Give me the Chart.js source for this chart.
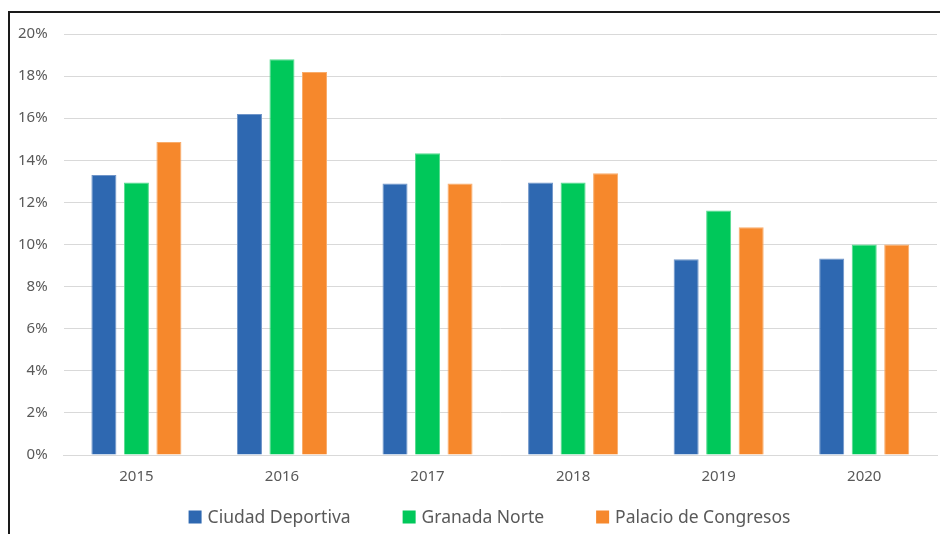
<!DOCTYPE html>
<html>
<head>
<meta charset="utf-8">
<script src="https://cdn.jsdelivr.net/npm/chart.js@4/dist/chart.umd.min.js"></script>
<style>
  html, body { margin: 0; padding: 0; background: #fff; }
  #wrap { width: 940px; height: 534px; position: relative; }
</style>
</head>
<body>
<div id="wrap"><canvas id="c" width="940" height="534"></canvas></div>
<script>
const categories = ['2015', '2016', '2017', '2018', '2019', '2020'];
const ciudadDeportiva = [13.3, 16.2, 12.9, 12.95, 9.3, 9.33];
const granadaNorte = [12.95, 18.8, 14.33, 12.95, 11.62, 10.0];
const palacioCongresos = [14.87, 18.2, 12.9, 13.38, 10.82, 10.0];
const seriesNames = ['Ciudad Deportiva', 'Granada Norte', 'Palacio de Congresos'];
const yTicks = [0, 2, 4, 6, 8, 10, 12, 14, 16, 18, 20];

const colors = ['#2E68B1', '#00C85A', '#F6882C'];
const borders = ['#6F95C9', '#55DB8E', '#F9AC6A'];

const framePlugin = {
  id: 'frame',
  afterDraw(chart) {
    const ctx = chart.ctx;
    ctx.save();
    ctx.strokeStyle = '#1a1a1a';
    ctx.lineWidth = 2;
    ctx.beginPath();
    ctx.moveTo(9, 534);
    ctx.lineTo(9, 12);
    ctx.lineTo(940, 12);
    ctx.stroke();
    ctx.restore();
  }
};

const legendPlugin = {
  id: 'customLegend',
  afterDraw(chart) {
    const ctx = chart.ctx;
    const box = 13, gapText = 6, gapItem = 52, cy = 517, centerX = 489.5;
    ctx.save();
    ctx.font = '17.5px "Noto Sans"';
    ctx.textBaseline = 'middle';
    const items = chart.data.datasets.map(ds => ({
      label: ds.label, color: ds.backgroundColor, w: ctx.measureText(ds.label).width
    }));
    const total = items.reduce((s, it) => s + box + gapText + it.w, 0) + gapItem * (items.length - 1);
    let x = centerX - total / 2;
    items.forEach(it => {
      ctx.fillStyle = it.color;
      ctx.fillRect(x, cy - box / 2, box, box);
      x += box + gapText;
      ctx.fillStyle = '#595959';
      ctx.textAlign = 'left';
      ctx.fillText(it.label, x, cy + 1);
      x += it.w + gapItem;
    });
    ctx.restore();
  }
};

const datasets = [ciudadDeportiva, granadaNorte, palacioCongresos].map((d, i) => ({
  label: seriesNames[i],
  data: d,
  backgroundColor: colors[i],
  borderColor: borders[i],
  borderWidth: 1,
  categoryPercentage: 0.67,
  barPercentage: 0.77
}));

new Chart(document.getElementById('c'), {
  type: 'bar',
  data: { labels: categories, datasets },
  plugins: [framePlugin, legendPlugin],
  options: {
    responsive: false,
    animation: false,
    layout: { padding: { left: 2, right: 3, top: 34, bottom: 43 } },
    plugins: {
      tooltip: { enabled: false },
      legend: { display: false }
    },
    scales: {
      x: {
        grid: { display: false },
        border: { display: true, color: '#d9d9d9' },
        ticks: { color: '#595959', font: { family: 'Noto Sans', size: 15 }, padding: 5 }
      },
      y: {
        min: 0,
        max: 20,
        afterBuildTicks(axis) { axis.ticks = yTicks.map(v => ({ value: v })); },
        grid: { color: '#d9d9d9', lineWidth: 1, drawTicks: false },
        border: { display: false },
        ticks: {
          color: '#595959',
          font: { family: 'Noto Sans', size: 15 },
          padding: 16,
          callback: v => v + '%'
        }
      }
    }
  }
});
</script>
</body>
</html>
